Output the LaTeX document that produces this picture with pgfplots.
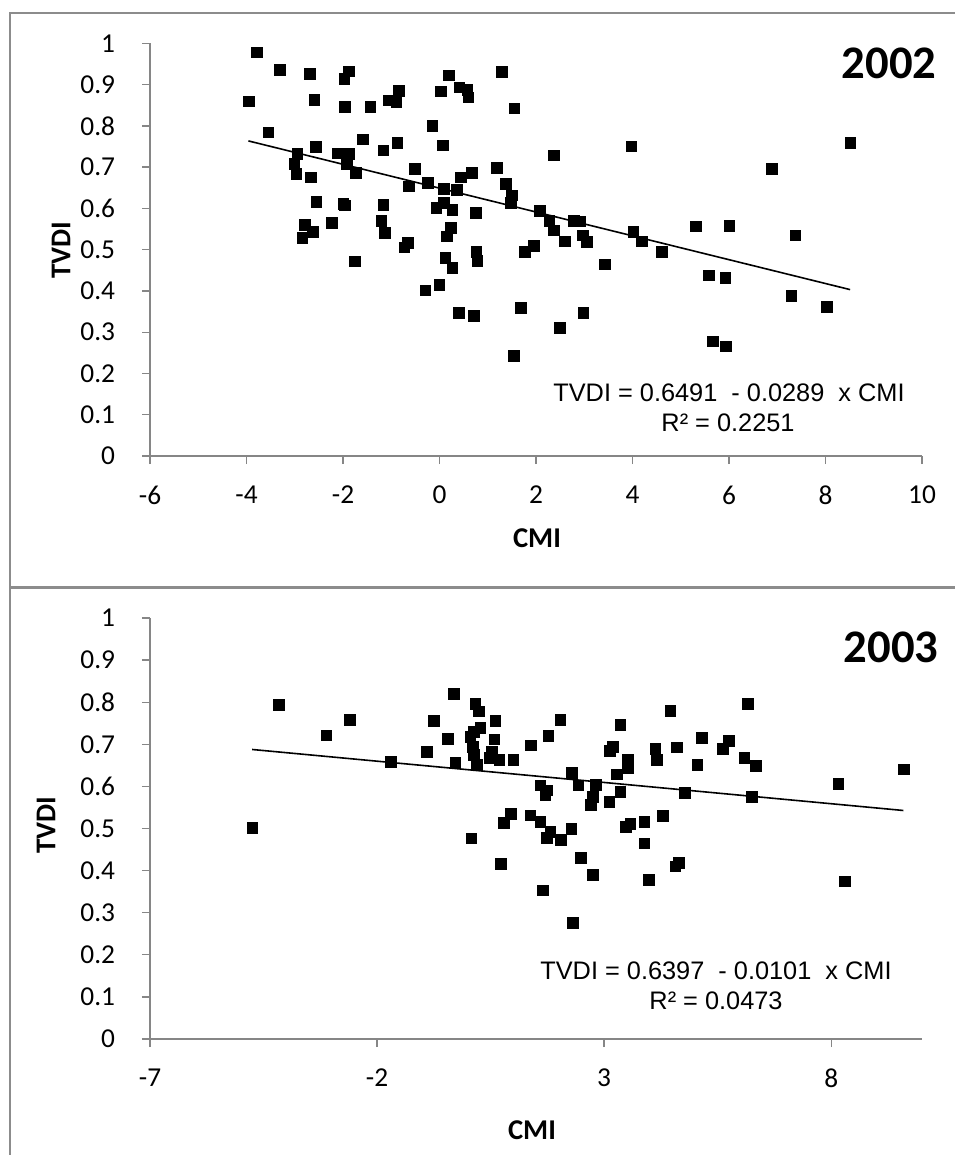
\documentclass[border=0pt]{standalone}
\usepackage{pgfplots}
\pgfplotsset{compat=1.18}
\usepackage{fontspec}
\setmainfont{Carlito}
\newfontfamily\arialfont{Liberation Sans}
\definecolor{axisgray}{RGB}{134,134,134}
\definecolor{framegray}{RGB}{140,140,140}
\newcommand{\tickfont}{\fontsize{20.5}{24}\selectfont}

\pgfplotsset{
  myaxis/.style={
    scale only axis, width=579pt,
    axis lines=left, axis line style={-, draw=axisgray, line width=1pt},
    tick align=outside, major tick length=6pt,
    tick style={draw=axisgray, line width=1pt},
    ymin=0, ymax=1,
    ytick={0,0.1,0.2,0.3,0.4,0.5,0.6,0.7,0.8,0.9,1},
    yticklabels={0,0.1,0.2,0.3,0.4,0.5,0.6,0.7,0.8,0.9,1},
    every tick label/.append style={font=\tickfont, text=black, inner sep=0pt},
    xticklabel style={font=\tickfont, inner sep=0pt, anchor=north},
    yticklabel style={font=\tickfont, inner sep=0pt, anchor=east},
    yticklabel shift=20pt,
    xticklabel shift=16pt,
    clip=false,
    /pgf/number format/assume math mode=true,
  },
  pts/.style={only marks, mark=square*, mark size=4pt, color=black, mark options={line width=0.2pt}},
  trend/.style={no marks, black, line width=1.2pt},
}

\begin{document}
\begin{tikzpicture}
\useasboundingbox (0pt,0pt) rectangle (716.25pt,-866.25pt);
% frames
\draw[framegray, line width=0.9pt] (7.5pt,-9.75pt) rectangle (725pt,-440.25pt);
\draw[framegray, line width=0.9pt] (7.5pt,-441pt) rectangle (725pt,-875pt);

% ---------- 2002 ----------
\begin{axis}[myaxis, at={(112.5pt,-342pt)}, anchor=south west, height=309.5pt,
  xmin=-6, xmax=10, xtick={-6,-4,-2,0,2,4,6,8,10},
  xticklabels={-6,-4,-2,0,2,4,6,8,10}]
\addplot[pts] coordinates {
(-3.96,0.860) (-3.79,0.979) (-3.32,0.936) (-3.55,0.785) (-2.69,0.927)
(-2.60,0.864) (-2.57,0.749) (-2.95,0.733) (-3.01,0.709) (-2.97,0.684)
(-2.67,0.676) (-2.56,0.616) (-2.80,0.561) (-2.63,0.543) (-2.85,0.529)
(-1.98,0.914) (-1.88,0.933) (-1.96,0.847) (-2.12,0.734) (-1.89,0.733)
(-1.93,0.707) (-1.74,0.687) (-1.97,0.608) (-2.00,0.612) (-2.24,0.565)
(-1.76,0.472) (-1.60,0.768) (-1.44,0.846) (-1.05,0.862) (-0.90,0.858)
(-0.85,0.886) (-1.17,0.741) (-0.88,0.759) (-0.52,0.697) (-0.64,0.654)
(-1.17,0.609) (-1.21,0.571) (-1.14,0.542) (-0.66,0.517) (-0.73,0.506)
(-0.15,0.800) (0.07,0.753) (-0.24,0.663) (0.08,0.648) (0.35,0.646)
(0.44,0.676) (0.66,0.687) (-0.07,0.602) (0.08,0.614) (0.26,0.597)
(0.75,0.589) (0.23,0.553) (0.15,0.533) (0.12,0.481) (0.26,0.457)
(0.76,0.495) (0.78,0.473) (0.03,0.884) (0.19,0.923) (0.41,0.894)
(0.57,0.888) (0.59,0.870) (-0.01,0.416) (-0.30,0.402) (0.39,0.348)
(0.71,0.340) (1.29,0.932) (1.55,0.843) (2.36,0.729) (3.97,0.751)
(1.19,0.699) (1.37,0.660) (1.50,0.632) (1.47,0.614) (2.07,0.594)
(2.27,0.571) (2.36,0.547) (2.59,0.521) (2.78,0.571) (2.90,0.569)
(2.97,0.535) (3.05,0.519) (4.01,0.543) (4.19,0.521) (4.61,0.495)
(5.31,0.557) (6.00,0.559) (6.89,0.697) (8.51,0.759) (7.37,0.535)
(1.76,0.495) (1.95,0.509) (3.42,0.465) (5.58,0.438) (5.92,0.432)
(1.68,0.359) (1.54,0.243) (2.49,0.311) (2.98,0.347) (5.66,0.278)
(5.93,0.266) (7.29,0.388) (8.03,0.362)
};
\addplot[trend] coordinates {(-3.96,0.7635) (8.51,0.4032)};
\end{axis}

% ---------- 2003 ----------
\begin{axis}[myaxis, at={(112.5pt,-779.25pt)}, anchor=south west, height=315.75pt,
  xmin=-7, xmax=10, xtick={-7,-2,3,8},
  xticklabels={-7,-2,3,8}]
\addplot[pts] coordinates {
(-4.75,0.502) (-4.17,0.795) (-3.12,0.722) (-2.61,0.759) (-1.70,0.659)
(-0.91,0.682) (-0.76,0.756) (-0.45,0.713) (-0.32,0.821) (-0.28,0.656)
(0.07,0.477) (0.16,0.797) (0.23,0.779) (0.27,0.739) (0.12,0.730)
(0.05,0.718) (0.10,0.694) (0.12,0.675) (0.19,0.651) (0.60,0.756)
(0.58,0.712) (0.52,0.682) (0.47,0.669) (0.69,0.663) (1.00,0.663)
(1.38,0.698) (1.77,0.720) (2.03,0.758) (1.59,0.603) (1.74,0.591)
(1.70,0.580) (2.29,0.633) (2.43,0.603) (2.81,0.605) (2.74,0.576)
(2.71,0.556) (3.11,0.564) (3.35,0.587) (3.28,0.629) (3.52,0.645)
(3.52,0.665) (3.12,0.685) (3.19,0.694) (3.35,0.746) (4.12,0.690)
(4.15,0.663) (4.45,0.780) (4.60,0.693) (4.78,0.585) (5.15,0.716)
(5.05,0.651) (5.61,0.689) (5.74,0.709) (6.08,0.668) (6.34,0.649)
(6.16,0.797) (6.25,0.576) (8.15,0.606) (9.59,0.641) (0.94,0.536)
(0.78,0.514) (1.37,0.532) (1.59,0.516) (1.81,0.492) (1.74,0.478)
(2.04,0.474) (2.27,0.500) (0.72,0.417) (2.49,0.431) (1.64,0.354)
(2.75,0.390) (2.31,0.276) (3.57,0.512) (3.48,0.504) (3.88,0.516)
(3.88,0.465) (3.98,0.378) (4.29,0.530) (4.64,0.419) (4.56,0.411)
(8.29,0.375)
};
\addplot[trend] coordinates {(-4.75,0.6877) (9.59,0.5428)};
\end{axis}

% titles and labels
\node[anchor=east, font=\fontsize{35}{40}\selectfont\bfseries] at (705.75pt,-47.25pt) {2002};
\node[anchor=east, font=\fontsize{35}{40}\selectfont\bfseries] at (707.25pt,-485.25pt) {2003};
\node[font=\fontsize{21.5}{24}\selectfont\bfseries] at (402.75pt,-403.5pt) {CMI};
\node[font=\fontsize{21.5}{24}\selectfont\bfseries] at (399pt,-847.5pt) {CMI};
\node[rotate=90, font=\fontsize{21.5}{24}\selectfont\bfseries] at (45.75pt,-187.5pt) {TVDI};
\node[rotate=90, font=\fontsize{21.5}{24}\selectfont\bfseries] at (34.5pt,-618.75pt) {TVDI};
\node[font=\arialfont\fontsize{19}{22}\selectfont] at (546.75pt,-294.75pt) {TVDI = 0.6491\ \ - 0.0289\ \ x CMI};
\node[font=\arialfont\fontsize{19}{22}\selectfont] at (546pt,-317.25pt) {R² = 0.2251};
\node[font=\arialfont\fontsize{19}{22}\selectfont] at (537pt,-728.25pt) {TVDI = 0.6397\ \ - 0.0101\ \ x CMI};
\node[font=\arialfont\fontsize{19}{22}\selectfont] at (537pt,-750.75pt) {R² = 0.0473};
\end{tikzpicture}
\end{document}
